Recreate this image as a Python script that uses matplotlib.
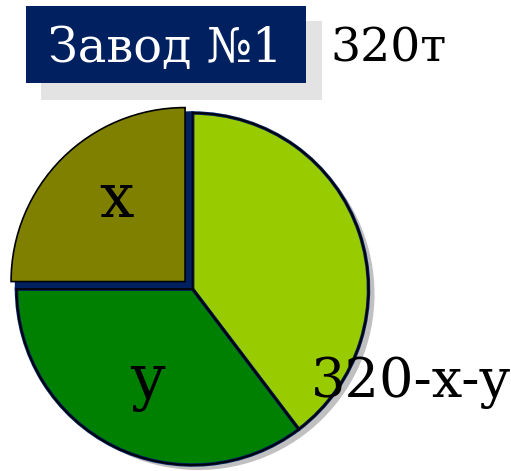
import matplotlib
matplotlib.use("Agg")
import matplotlib.pyplot as plt
from matplotlib.patches import Rectangle, Circle

# Production split of plant No.1 (tonnes): x, y and the remainder 320-x-y
total = 320
labels = ["320-x-y", "y", "x"]
values = [127, 113, 80]
colors = ["#99cc00", "#008000", "#808000"]
title_text = "Завод №1"
total_text = "320т"

NAVY = "#002060"
W, H = 511, 471

fig = plt.figure(figsize=(W / 100, H / 100), dpi=100)
ax = fig.add_axes([0, 0, 1, 1])

cx, cy, r = 192.5, H - 289, 176
font = dict(family="DejaVu Serif")

# drop shadow of the pie
ax.add_patch(Circle((cx + 6, cy - 5), r, facecolor="#c0c0c0", edgecolor="none", zorder=1))

# base pie (unexploded); the x wedge is painted navy so the gap shows as a band
base, _ = ax.pie(values, colors=colors[:2] + [NAVY], startangle=90, counterclock=False,
                 center=(cx, cy), radius=r, frame=True,
                 wedgeprops=dict(edgecolor=NAVY, linewidth=2.5))
for w in base:
    w.set_zorder(2)
# black outline along the outer arcs
outline, _ = ax.pie(values, colors=["none"] * 3, startangle=90, counterclock=False,
                    center=(cx, cy), radius=r, frame=True,
                    wedgeprops=dict(edgecolor="black", linewidth=1.2, fill=False))
for i, w in enumerate(outline):
    w.set_zorder(3)
    if i == 2:
        w.set_visible(False)

# exploded x wedge on top (explode offset is in data units here)
top, _ = ax.pie(values, colors=colors, startangle=90, counterclock=False,
                center=(cx, cy), radius=r - 2, frame=True, explode=[0, 0, 10.5],
                wedgeprops=dict(edgecolor="black", linewidth=1.2))
for i, w in enumerate(top):
    w.set_zorder(4)
    if i != 2:
        w.set_visible(False)

ax.set_xlim(0, W)
ax.set_ylim(0, H)
ax.set_aspect("equal")
ax.axis("off")

# slice labels
ax.text(116, H - 217, labels[2], fontsize=44, ha="center", va="baseline", zorder=6, **font)
ax.text(147, H - 398, labels[1], fontsize=44, ha="center", va="baseline", zorder=6, **font)
ax.text(311, H - 397, labels[0], fontsize=39, ha="left", va="baseline", zorder=6, **font)

# title box with shadow
ax.add_patch(Rectangle((41, H - 100), 281, 79, facecolor="#e3e3e3", edgecolor="none", zorder=5))
ax.add_patch(Rectangle((26, H - 83), 280, 77, facecolor=NAVY, edgecolor="none", zorder=6))
ax.text(48, H - 62, title_text, color="white", fontsize=34.5, ha="left", va="baseline",
        zorder=7, **font)
ax.text(330, H - 62, total_text, color="black", fontsize=34, ha="left", va="baseline",
        zorder=7, **font)

fig.savefig("out.png", dpi=100)
